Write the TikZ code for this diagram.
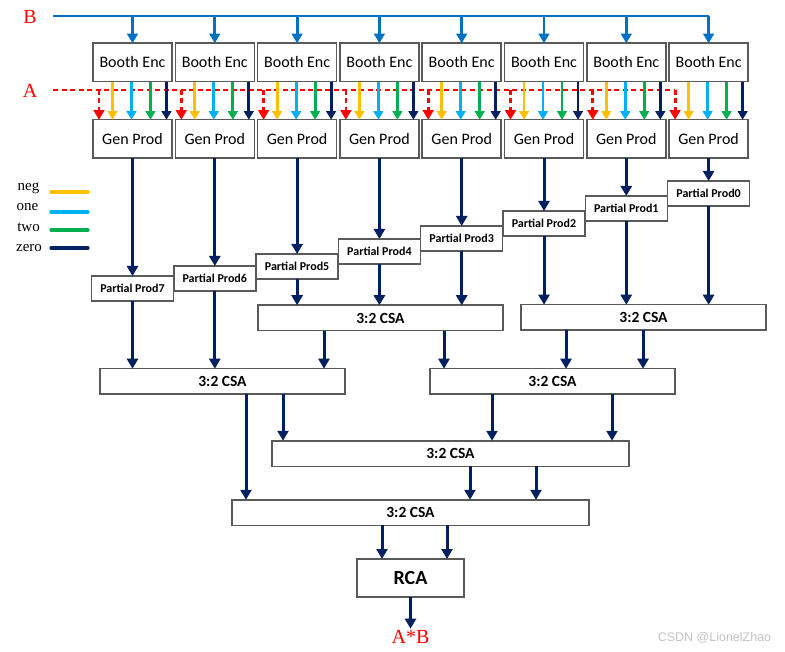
\documentclass[tikz,border=0pt]{standalone}
\usepackage{fontspec}
\setmainfont{Liberation Serif}
\newfontfamily\carl{Carlito}
\newfontfamily\wmfont{Liberation Sans}
\usetikzlibrary{arrows.meta,calc}
\definecolor{bblue}{HTML}{0070C0}
\definecolor{ayel}{HTML}{FFC000}
\definecolor{acyan}{HTML}{00B0F0}
\definecolor{agreen}{HTML}{00B050}
\definecolor{anavy}{HTML}{002060}
\definecolor{boxgray}{HTML}{5A5A5A}
\definecolor{wmgray}{HTML}{C4C4C4}
\begin{document}
\begin{tikzpicture}[x=1pt,y=-1pt,
  boxbase/.style={draw=boxgray, line width=1.5pt, fill=white, inner sep=0pt, outer sep=0pt, text=black},
  encbox/.style={boxbase, minimum width=79pt, minimum height=38.5pt, font=\carl\fontsize{16}{18}\selectfont},
  ppbox/.style={boxbase, minimum width=82pt, minimum height=25pt, font=\carl\bfseries\fontsize{12}{14}\selectfont},
  csabox/.style={boxbase, minimum height=25.5pt, font=\carl\bfseries\fontsize{15.5}{17}\selectfont},
  rcabox/.style={boxbase, minimum width=107pt, minimum height=38pt, font=\carl\bfseries\fontsize{20}{22}\selectfont},
  redlbl/.style={text=red, inner sep=1.5pt, font=\fontsize{20}{22}\selectfont},
  lgtext/.style={inner sep=0pt, anchor=base, font=\fontsize{15}{15}\selectfont},
  navyarr/.style={draw=anavy, line width=3pt, -{Triangle[width=11pt,length=10pt]}, fill=anavy},
  colarr/.style={draw=#1, line width=2.8pt, -{Triangle[width=9.5pt,length=8.5pt]}},
  barr/.style={draw=bblue, line width=2.8pt, -{Triangle[width=10.5pt,length=9.5pt]}},
  reddash/.style={draw=red, line width=2.8pt, dash pattern=on 5pt off 3.5pt},
  legline/.style={draw=#1, line width=3.2pt, line cap=round}
]
\useasboundingbox (0,0) rectangle (785,652);

% labels
\node[redlbl] (Blbl) at (30,17) {B};
\node[redlbl] (Albl) at (30,91) {A};
\coordinate (Bstart) at (53,16);
\coordinate (Astart) at (53,90);

% encoders and generators
\foreach \i in {0,...,7} {
  \pgfmathsetmacro{\cx}{132.5+82.3*\i}
  \node[encbox] (be\i) at (\cx,62.5) {Booth Enc};
  \node[encbox] (gp\i) at (\cx,139) {Gen Prod};
}

% partial products
\foreach \i/\t in {0/276,1/266,2/254,3/239,4/226,5/211,6/196,7/181} {
  \pgfmathsetmacro{\cx}{132.5+82.3*\i}
  \pgfmathtruncatemacro{\k}{7-\i}
  \node[ppbox] (pp\k) at (\cx,\t+12.5) {Partial Prod\k};
}

% B bus
\draw[draw=bblue, line width=2.8pt] (Bstart) -- (Bstart -| be7.north);
\foreach \i in {0,...,7} {
  \draw[barr] (be\i.north |- Bstart) -- (be\i.north);
}

% A bus (dashed)
\foreach \i in {0,...,7} {
  \path ($(gp\i.north west)+(6,0)$) coordinate (rd\i);
}
\draw[reddash] (Astart) -- (Astart -| rd7);
\foreach \i in {0,...,7} {
  \draw[reddash, -{Triangle[width=10.5pt,length=9.5pt]}] (rd\i |- Astart) -- (rd\i);
}

% booth control signals
\foreach \i in {0,...,7} {
  \draw[colarr=ayel]   ($(be\i.south west)+(19.5,0)$) -- ($(gp\i.north west)+(19.5,0)$);
  \draw[colarr=acyan]  ($(be\i.south west)+(38.5,0)$) -- ($(gp\i.north west)+(38.5,0)$);
  \draw[colarr=agreen] ($(be\i.south west)+(57.5,0)$) -- ($(gp\i.north west)+(57.5,0)$);
  \draw[colarr=anavy]  ($(be\i.south west)+(73.5,0)$) -- ($(gp\i.north west)+(73.5,0)$);
}

% gen prod -> partial prod
\foreach \i in {0,...,7} {
  \pgfmathtruncatemacro{\k}{7-\i}
  \draw[navyarr] (gp\i.south) -- (pp\k.north);
}

% legend
\node[lgtext] (lneg) at (28.5,191) {neg};
\node[lgtext] (lone) at (27.5,211) {one};
\node[lgtext] (ltwo) at (28.5,232) {two};
\node[lgtext] (lzero) at (29,252) {zero};
\draw[legline=ayel]   (51,192) -- (88,192);
\draw[legline=acyan]  (51,212) -- (88,212);
\draw[legline=agreen] (51,230) -- (88,230);
\draw[legline=anavy]  (51,248) -- (88,248);

% CSA tree
\node[csabox, minimum width=245pt] (c1a) at (380.5,318) {3:2 CSA};
\node[csabox, minimum width=245pt] (c1b) at (643.5,317.5) {3:2 CSA};
\node[csabox, minimum width=245pt] (c2a) at (222.5,381.5) {3:2 CSA};
\node[csabox, minimum width=245pt] (c2b) at (552.5,381.5) {3:2 CSA};
\node[csabox, minimum width=357pt] (c3) at (450.5,453.5) {3:2 CSA};
\node[csabox, minimum width=357pt] (c4) at (410.5,512.5) {3:2 CSA};
\node[rcabox] (rca) at (410.5,578) {RCA};
\node[redlbl] (ab) at (410.5,637) {A*B};

% partial prods -> first CSA level
\draw[navyarr] (pp7.south) -- (c2a.north -| pp7.south);
\draw[navyarr] (pp6.south) -- (c2a.north -| pp6.south);
\draw[navyarr] (pp5.south) -- (c1a.north -| pp5.south);
\draw[navyarr] (pp4.south) -- (c1a.north -| pp4.south);
\draw[navyarr] (pp3.south) -- (c1a.north -| pp3.south);
\draw[navyarr] (pp2.south) -- (c1b.north -| pp2.south);
\draw[navyarr] (pp1.south) -- (c1b.north -| pp1.south);
\draw[navyarr] (pp0.south) -- (c1b.north -| pp0.south);

% CSA interconnect columns
\foreach \x in {324,444,566,643,246,283,492,612,470,536,382,447} {
  \coordinate (col\x) at (\x,0);
}
\draw[navyarr] (c1a.south -| col324) -- (c2a.north -| col324);
\draw[navyarr] (c1a.south -| col444) -- (c2b.north -| col444);
\draw[navyarr] (c1b.south -| col566) -- (c2b.north -| col566);
\draw[navyarr] (c1b.south -| col643) -- (c2b.north -| col643);
\draw[navyarr] (c2a.south -| col246) -- (c4.north -| col246);
\draw[navyarr] (c2a.south -| col283) -- (c3.north -| col283);
\draw[navyarr] (c2b.south -| col492) -- (c3.north -| col492);
\draw[navyarr] (c2b.south -| col612) -- (c3.north -| col612);
\draw[navyarr] (c3.south -| col470) -- (c4.north -| col470);
\draw[navyarr] (c3.south -| col536) -- (c4.north -| col536);
\draw[navyarr] (c4.south -| col382) -- (rca.north -| col382);
\draw[navyarr] (c4.south -| col447) -- (rca.north -| col447);
\draw[navyarr] (rca.south) -- (ab.north);

% watermark
\node[text=wmgray, inner sep=0pt, font=\wmfont\fontsize{12.5}{13}\selectfont] (wm) at (714.5,638) {CSDN @LionelZhao};
\end{tikzpicture}
\end{document}
